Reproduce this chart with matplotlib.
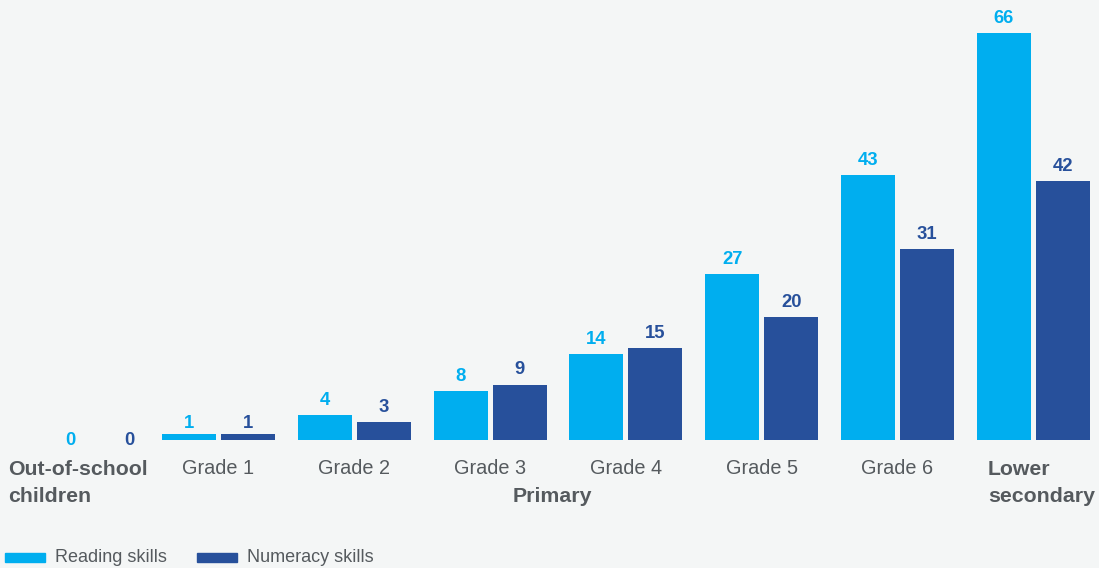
import matplotlib.pyplot as plt
import numpy as np
from matplotlib.patches import Rectangle

plt.rcParams['font.family'] = ['Liberation Sans', 'DejaVu Sans']

categories = ['Out-of-school\nchildren', 'Grade 1', 'Grade 2', 'Grade 3', 'Grade 4', 'Grade 5', 'Grade 6', 'Lower\nsecondary']
reading = [0, 1, 4, 8, 14, 27, 43, 66]
numeracy = [0, 1, 3, 9, 15, 20, 31, 42]
series_names = ['Reading skills', 'Numeracy skills']

c_read = '#00aeef'
c_num = '#27509b'
bg = '#f4f6f6'
grey = '#555a5e'

W, H = 1099, 568
fig = plt.figure(figsize=(W / 100, H / 100), dpi=100, facecolor=bg)
base = 440  # baseline in px from top
ax = fig.add_axes([0, (H - base) / H, 1, base / H])
ax.set_facecolor(bg)
px_per_unit = 407 / 66
ax.set_xlim(0, W)
ax.set_ylim(0, base / px_per_unit)
ax.axis('off')

# group centres (first group sits a bit closer)
centers = 218.5 + 135.8 * (np.arange(len(categories)) - 1)
centers[0] = 100
bw = 54
off = 29.5

ax.bar(centers - off, reading, width=bw, color=c_read)
ax.bar(centers + off, numeracy, width=bw, color=c_num)


def gap(v):
    # px between bar top and bottom of the label
    return min(10, -5 + 11 * v) / px_per_unit


for x, r, n in zip(centers, reading, numeracy):
    ax.text(x - off, r + gap(r), str(r), ha='center', va='baseline', color=c_read,
            fontsize=13.3, fontweight='bold')
    ax.text(x + off, n + gap(n), str(n), ha='center', va='baseline', color=c_num,
            fontsize=13.3, fontweight='bold')


def fy(py):
    return 1 - py / H


# category labels
for i, cat in enumerate(categories):
    if i == 0:
        fig.text(8 / W, fy(483), cat, ha='left', va='center', fontsize=15.3,
                 fontweight='bold', color=grey, linespacing=1.5)
    elif i == len(categories) - 1:
        fig.text(988 / W, fy(483), cat, ha='left', va='center', fontsize=15.3,
                 fontweight='bold', color=grey, linespacing=1.5)
    else:
        fig.text(centers[i] / W, fy(469), cat, ha='center', va='center', fontsize=14.3,
                 color=grey)
fig.text(552 / W, fy(496), 'Primary', ha='center', va='center', fontsize=15.3,
         fontweight='bold', color=grey)

# legend
for x0, col, name in [(5, c_read, series_names[0]), (197, c_num, series_names[1])]:
    fig.patches.append(Rectangle((x0 / W, fy(562)), 40 / W, 9 / H, color=col,
                                 transform=fig.transFigure))
    fig.text((x0 + 50) / W, fy(558), name, ha='left', va='center', fontsize=13,
             color=grey)

fig.savefig('out.png', dpi=100, facecolor=bg)
